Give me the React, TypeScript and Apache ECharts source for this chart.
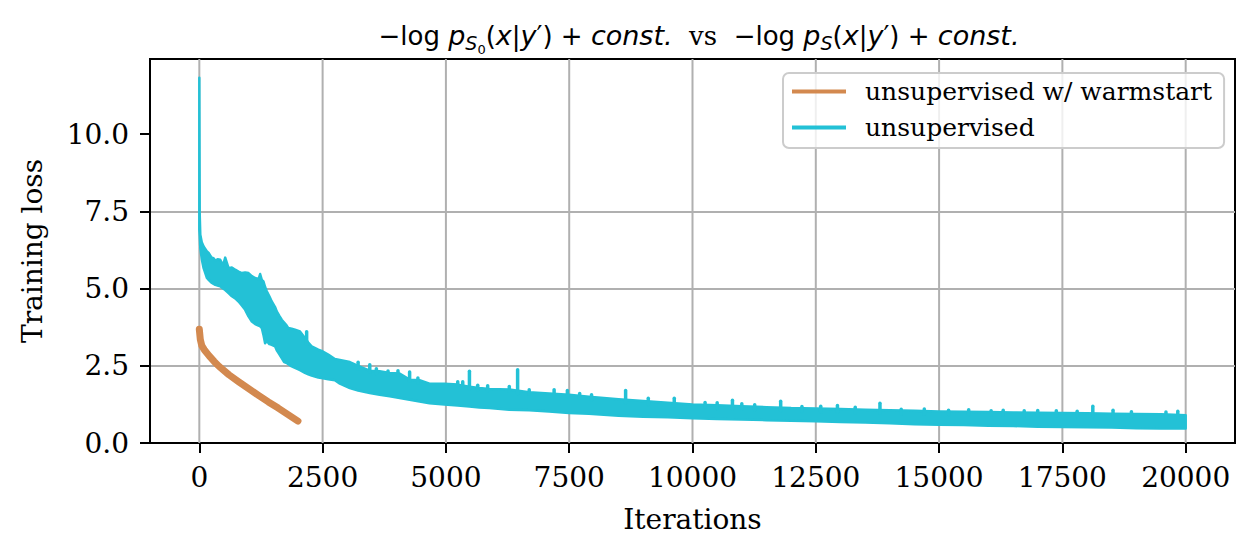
import React, { useEffect, useRef } from "react";
import * as echarts from "echarts";

const ORANGE = "#d3894f";
const CYAN = "#23c1d6";

const xTicks = [0, 2500, 5000, 7500, 10000, 12500, 15000, 17500, 20000];
const yTicks = [0, 2.5, 5, 7.5, 10];

const orangeX = [0, 20, 50, 100, 200, 300, 400, 600, 800, 1000, 1200, 1400, 1600, 1800, 2000];
const orangeY = [3.68, 3.35, 3.15, 3.02, 2.82, 2.64, 2.48, 2.21, 1.98, 1.76, 1.54, 1.33, 1.13, 0.92, 0.71];

const cyanX = [
  0, 8, 20, 50, 87, 155, 189, 240, 290, 323, 370, 424, 480, 525, 593, 660, 727, 795, 862, 930, 997,
  1065, 1132, 1200, 1233, 1267, 1300, 1334, 1368, 1420, 1469, 1536, 1570, 1620, 1671, 1720, 1772,
  1805, 1873, 1940, 2041, 2142, 2210, 2277, 2412, 2479, 2614, 2749, 2850, 3052, 3220, 3456, 3657,
  3860, 4062, 4264, 4466, 4668, 4971, 5240, 5477, 5679, 5881, 6285, 6689, 7093, 7497, 7901, 8500,
  9000, 9500, 10000, 10500, 11000, 11500, 12000, 12500, 13000, 13500, 14000, 14500, 15000, 15500,
  16000, 16500, 17000, 17500, 18000, 18500, 19000, 19500, 20000,
];
const cyanHigh = [
  11.82, 7.4, 6.74, 6.5, 6.36, 6.2, 6.15, 6.02, 5.98, 5.9, 5.95, 5.93, 5.75, 6.0, 5.66, 5.68, 5.61,
  5.55, 5.5, 5.52, 5.5, 5.4, 5.34, 5.3, 5.47, 5.28, 5.23, 5.05, 4.91, 4.75, 4.58, 4.4, 4.26, 4.12,
  3.99, 3.9, 3.8, 3.72, 3.7, 3.67, 3.61, 3.4, 3.25, 3.13, 3.02, 2.98, 2.86, 2.72, 2.69, 2.62, 2.5,
  2.34, 2.32, 2.27, 2.25, 2.05, 2.03, 1.92, 1.92, 1.89, 1.82, 1.78, 1.75, 1.73, 1.64, 1.6, 1.56,
  1.5, 1.42, 1.36, 1.3, 1.25, 1.22, 1.19, 1.16, 1.13, 1.12, 1.1, 1.08, 1.06, 1.04, 1.02, 1.01, 1.0,
  0.99, 0.98, 0.97, 0.96, 0.95, 0.94, 0.93, 0.9,
];
const cyanLow = [
  6.9, 6.7, 6.31, 5.95, 5.66, 5.34, 5.28, 5.2, 5.15, 5.12, 5.1, 5.07, 5.0, 4.95, 4.85, 4.75, 4.68,
  4.58, 4.45, 4.31, 4.1, 3.93, 3.85, 3.8, 3.78, 3.72, 3.5, 3.23, 3.3, 3.2, 3.18, 3.13, 3.0, 2.88,
  2.75, 2.62, 2.59, 2.55, 2.48, 2.43, 2.36, 2.27, 2.22, 2.18, 2.12, 2.1, 2.06, 2.03, 1.92, 1.78, 1.7,
  1.62, 1.56, 1.51, 1.46, 1.4, 1.34, 1.29, 1.25, 1.21, 1.18, 1.15, 1.13, 1.08, 1.06, 1.02, 0.97,
  0.95, 0.88, 0.85, 0.83, 0.8, 0.78, 0.76, 0.74, 0.72, 0.7, 0.68, 0.66, 0.64, 0.61, 0.59, 0.58, 0.56,
  0.55, 0.53, 0.52, 0.51, 0.5, 0.48, 0.47, 0.47,
];

const spikeX = [
  2176, 3220, 3456, 3590, 3826, 4028, 4264, 4432, 5240, 5341, 5477, 5645, 5847, 6285, 6454, 6689,
  7194, 7463, 7712, 7953, 8644, 9103, 9630, 10255, 10500, 10810, 11000, 11261, 11788, 12219, 12600,
  12939, 13300, 13801, 14232, 14700, 15192, 15600, 16055, 16300, 16726, 17000, 17377, 17800, 18117,
  18527, 18900, 19600, 19840,
];
const spikeTop = [
  3.6, 2.61, 2.53, 2.4, 2.33, 2.34, 2.3, 2.1, 1.98, 1.98, 2.32, 1.87, 1.85, 1.83, 2.37, 1.72, 1.72,
  1.7, 1.6, 1.56, 1.7, 1.45, 1.45, 1.31, 1.3, 1.38, 1.27, 1.24, 1.35, 1.18, 1.19, 1.21, 1.16, 1.29,
  1.09, 1.1, 1.06, 1.08, 1.04, 1.06, 1.04, 1.05, 1.04, 1.03, 1.19, 1.06, 1.01, 1.0, 1.03,
];
const spikeBase = [
  3.2, 2.4, 2.3, 2.25, 2.2, 2.2, 2.0, 1.95, 1.85, 1.85, 1.75, 1.72, 1.7, 1.68, 1.6, 1.58, 1.55,
  1.5, 1.45, 1.4, 1.3, 1.25, 1.2, 1.15, 1.12, 1.1, 1.1, 1.08, 1.05, 1.02, 1.0, 1.0, 0.98, 0.98,
  0.95, 0.94, 0.92, 0.92, 0.9, 0.9, 0.88, 0.88, 0.87, 0.86, 0.86, 0.85, 0.84, 0.82, 0.82,
];

const SERIF = "DejaVu Serif";
const SANS = "DejaVu Sans";

const titleText =
  "{n|−log }{i|p}{s|S}{z|0}{n|(}{i|x}{n||}{i|y}{n|′) + }{i|const.}{v|  vs  }" +
  "{n|−log }{i|p}{s|S}{n|(}{i|x}{n||}{i|y}{n|′) + }{i|const.}";

const legendIcon = "path://M0,0L54,0L54,4L0,4Z";

export default function App() {
  const ref = useRef<HTMLDivElement>(null);
  useEffect(() => {
    if (!ref.current) return;
    const chart = echarts.init(ref.current, null, { renderer: "svg" });
    const base = { fontWeight: "normal", color: "#000" };
    const option: any = {
      animation: false,
      backgroundColor: "#ffffff",
      title: {
        text: titleText,
        left: 694,
        textAlign: "center",
        top: 10,
        textStyle: {
          fontWeight: "normal",
          rich: {
            n: { ...base, fontFamily: SANS, fontSize: 26 },
            i: { ...base, fontFamily: SANS, fontStyle: "italic", fontSize: 27 },
            s: { ...base, fontFamily: SANS, fontStyle: "italic", fontSize: 19, padding: [15, 0, 0, 0] },
            z: { ...base, fontFamily: SANS, fontSize: 13, padding: [28, 0, 0, 0] },
            v: { ...base, fontFamily: SERIF, fontSize: 26 },
          },
        },
      },
      legend: {
        orient: "vertical",
        left: 783,
        top: 73,
        padding: [6, 12, 8, 9],
        itemGap: 11,
        itemWidth: 54,
        itemHeight: 25,
        backgroundColor: "rgba(255,255,255,0.8)",
        borderColor: "#cccccc",
        borderWidth: 2,
        borderRadius: 6,
        textStyle: { fontFamily: SERIF, fontSize: 25, color: "#000", padding: [0, 0, 0, 14] },
        data: [
          { name: "unsupervised w/ warmstart", icon: legendIcon, itemStyle: { color: ORANGE } },
          { name: "unsupervised", icon: legendIcon, itemStyle: { color: CYAN } },
        ],
      },
      grid: {
        left: 150,
        right: 23,
        top: 59,
        bottom: 115,
        show: true,
        borderColor: "#000",
        borderWidth: 2,
        backgroundColor: "transparent",
      },
      xAxis: {
        type: "value",
        min: -1000,
        max: 21000,
        name: "Iterations",
        nameLocation: "middle",
        nameGap: 62,
        nameTextStyle: { fontFamily: SERIF, fontSize: 28, color: "#000" },
        axisLine: { show: true, onZero: false, lineStyle: { color: "#000", width: 2 } },
        axisTick: { show: true, inside: false, length: 10, lineStyle: { color: "#000", width: 2 }, customValues: xTicks },
        axisLabel: {
          customValues: xTicks,
          formatter: (v: number) => String(v),
          margin: 20,
          fontFamily: SERIF,
          fontSize: 28,
          color: "#000",
        },
        splitLine: { show: false },
      },
      yAxis: {
        type: "value",
        min: 0,
        max: 12.43,
        interval: 2.5,
        name: "Training loss",
        nameLocation: "middle",
        nameGap: 104,
        nameTextStyle: { fontFamily: SERIF, fontSize: 28, color: "#000" },
        axisLine: { show: true, onZero: false, lineStyle: { color: "#000", width: 2 } },
        axisTick: { show: true, inside: false, length: 10, lineStyle: { color: "#000", width: 2 }, customValues: yTicks },
        axisLabel: {
          customValues: yTicks,
          formatter: (v: number) => v.toFixed(1),
          margin: 21,
          fontFamily: SERIF,
          fontSize: 28,
          color: "#000",
        },
        splitLine: { show: true, showMinLine: false, showMaxLine: false, lineStyle: { color: "#b0b0b0", width: 2 } },
      },
      series: [
        {
          type: "custom",
          silent: true,
          z: 1,
          data: xTicks.map((v) => [v, 0]),
          encode: { x: 0, y: 1 },
          renderItem: (params: any, api: any) => {
            const p = api.coord([api.value(0), 0]);
            const cs = params.coordSys;
            return {
              type: "line",
              shape: { x1: p[0], y1: cs.y, x2: p[0], y2: cs.y + cs.height },
              style: { stroke: "#b0b0b0", lineWidth: 2 },
            };
          },
        },
        {
          name: "unsupervised w/ warmstart",
          type: "line",
          z: 3,
          symbol: "none",
          data: orangeX.map((x, i) => [x, orangeY[i]]),
          itemStyle: { color: ORANGE },
          lineStyle: { color: ORANGE, width: 7, cap: "round", join: "round" },
        },
        {
          name: "unsupervised",
          type: "custom",
          z: 4,
          silent: true,
          itemStyle: { color: CYAN },
          data: [[0, 0]],
          encode: { x: 0, y: 1 },
          renderItem: (params: any, api: any) => {
            const top = cyanX.map((x, i) => api.coord([x, cyanHigh[i]]));
            const bottom = cyanX.map((x, i) => api.coord([x, cyanLow[i]])).reverse();
            const children: any[] = [
              {
                type: "polygon",
                shape: { points: top.concat(bottom) },
                style: { fill: CYAN, stroke: CYAN, lineWidth: 2.5, lineJoin: "round" },
              },
            ];
            spikeX.forEach((x, i) => {
              const a = api.coord([x, spikeTop[i]]);
              const b = api.coord([x, spikeBase[i]]);
              children.push({
                type: "line",
                shape: { x1: a[0], y1: a[1], x2: b[0], y2: b[1] },
                style: { stroke: CYAN, lineWidth: 3.5, lineCap: "round" },
              });
            });
            return { type: "group", children };
          },
        },
      ],
    };
    chart.setOption(option);
    return () => chart.dispose();
  }, []);
  return (
    <div
      ref={ref}
      style={{ position: "absolute", left: 0, top: 0, width: 1258, height: 558 }}
    />
  );
}
